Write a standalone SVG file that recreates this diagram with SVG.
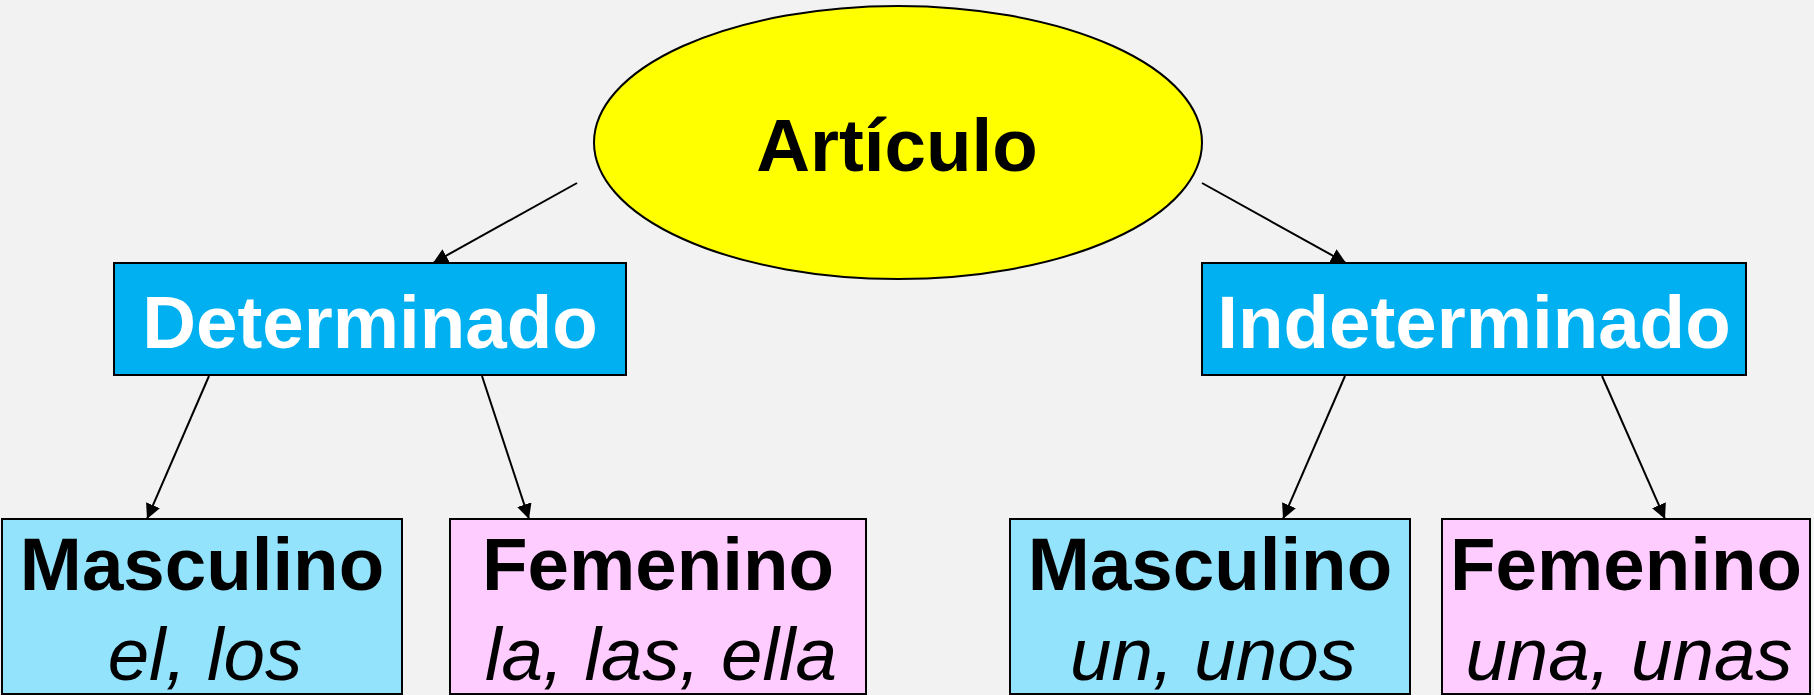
<svg xmlns="http://www.w3.org/2000/svg" width="1814" height="695" viewBox="0 0 1814 695">
<style>
.edge{stroke:#000;stroke-width:2;fill:none;marker-end:url(#arr)}
.box{stroke:#000;stroke-width:2}
.det{fill:#00b0f0}
.masc{fill:#93e3fc}
.fem{fill:#ffccff}
.t{font-family:"Liberation Sans",Arial,sans-serif;font-size:74.5px;text-anchor:middle}
.b{font-weight:bold}
.w{fill:#fff}
.k{fill:#000}
.i{font-style:italic}
</style>
<defs>
<marker id="arr" markerUnits="userSpaceOnUse" markerWidth="16" markerHeight="16" refX="15" refY="7.5" orient="auto">
<path d="M0,0 L15,7.5 L0,15 z" fill="#000"/>
</marker>
</defs>
<rect width="1814" height="695" fill="#f2f2f2"/>
<g id="connectors">
<line class="edge" x1="577" y1="183" x2="433" y2="263"/>
<line class="edge" x1="1202" y1="183" x2="1346" y2="263"/>
<line class="edge" x1="209" y1="376" x2="147" y2="519"/>
<line class="edge" x1="482" y1="376" x2="529" y2="519"/>
<line class="edge" x1="1345" y1="376" x2="1283" y2="519"/>
<line class="edge" x1="1602" y1="376" x2="1665" y2="519"/>
</g>
<g id="articulo">
<ellipse cx="898" cy="142.5" rx="304" ry="136.5" fill="#ffff00" stroke="#000" stroke-width="2"/>
<text class="t b k" x="897" y="171">Artículo</text>
</g>
<g id="determinado">
<rect class="box det" x="114" y="263" width="512" height="112"/>
<text class="t b w" x="370" y="348">Determinado</text>
</g>
<g id="indeterminado">
<rect class="box det" x="1202" y="263" width="544" height="112"/>
<text class="t b w" x="1474" y="348">Indeterminado</text>
</g>
<g id="masculino-det">
<rect class="box masc" x="2" y="519" width="400" height="175"/>
<text class="t b k" x="202" y="590">Masculino</text>
<text class="t i k" x="205" y="680">el, los</text>
</g>
<g id="femenino-det">
<rect class="box fem" x="450" y="519" width="416" height="175"/>
<text class="t b k" x="658" y="590">Femenino</text>
<text class="t i k" x="661" y="680">la, las, ella</text>
</g>
<g id="masculino-indet">
<rect class="box masc" x="1010" y="519" width="400" height="175"/>
<text class="t b k" x="1210" y="590">Masculino</text>
<text class="t i k" x="1213" y="680">un, unos</text>
</g>
<g id="femenino-indet">
<rect class="box fem" x="1442" y="519" width="368" height="175"/>
<text class="t b k" x="1626" y="590">Femenino</text>
<text class="t i k" x="1629" y="680">una, unas</text>
</g>
</svg>
